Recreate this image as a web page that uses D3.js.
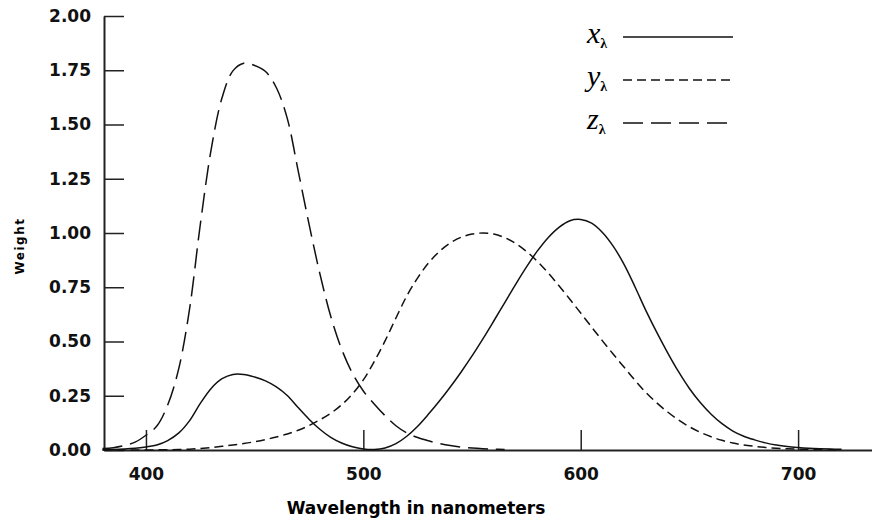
<!DOCTYPE html>
<html>
<head>
<meta charset="utf-8">
<script src="https://cdn.jsdelivr.net/npm/d3@7"></script>
<style>
body{margin:0;background:#fff;}
svg{display:block;}
.axis path,.axis line{stroke:#222;}
.axis text{font-family:"DejaVu Sans",sans-serif;font-weight:bold;font-size:17px;fill:#111;}
</style>
</head>
<body>
<svg id="chart" width="872" height="523"></svg>
<script>
let svgWidth = 872;
let svgHeight = 523;

// wavelengths (nm), 5 nm steps, and the three weight curves
let wavelength = d3.range(380,721,5);
let xBar = [0.0014,0.0022,0.0042,0.0077,0.0143,0.0232,0.0435,0.0776,0.1344,0.2148,0.2839,0.3285,0.3483,0.3481,0.3362,0.3187,0.2908,0.2511,0.1954,0.1421,0.0956,0.0580,0.0320,0.0147,0.0049,0.0024,0.0093,0.0291,0.0633,0.1096,0.1655,0.2257,0.2904,0.3597,0.4334,0.5121,0.5945,0.6784,0.7621,0.8425,0.9163,0.9786,1.0263,1.0567,1.0622,1.0456,1.0026,0.9384,0.8544,0.7514,0.6424,0.5419,0.4479,0.3608,0.2835,0.2187,0.1649,0.1212,0.0874,0.0636,0.0468,0.0329,0.0227,0.0158,0.0114,0.0081,0.0058,0.0041,0.0029];
let yBar = [0.0000,0.0001,0.0001,0.0002,0.0004,0.0006,0.0012,0.0022,0.0040,0.0073,0.0116,0.0168,0.0230,0.0298,0.0380,0.0480,0.0600,0.0739,0.0910,0.1126,0.1390,0.1693,0.2080,0.2586,0.3230,0.4073,0.5030,0.6082,0.7100,0.7932,0.8620,0.9149,0.9540,0.9803,0.9950,1.0000,0.9950,0.9786,0.9520,0.9154,0.8700,0.8163,0.7570,0.6949,0.6310,0.5668,0.5030,0.4412,0.3810,0.3210,0.2650,0.2170,0.1750,0.1382,0.1070,0.0816,0.0610,0.0446,0.0320,0.0232,0.0170,0.0119,0.0082,0.0057,0.0041,0.0029,0.0021,0.0015,0.0010];
let zWave = d3.range(380,566,5);
let zBar = [0.0065,0.0106,0.0201,0.0362,0.0679,0.1102,0.2074,0.3713,0.6456,1.0391,1.3856,1.6230,1.7471,1.7826,1.7721,1.7441,1.6692,1.5281,1.2876,1.0419,0.8130,0.6162,0.4652,0.3533,0.2720,0.2123,0.1582,0.1117,0.0782,0.0573,0.0422,0.0298,0.0203,0.0134,0.0088,0.0058,0.0039,0.0028];
let xTicks = [400,500,600,700];
let yTicks = [0,0.25,0.5,0.75,1,1.25,1.5,1.75,2];
let legendNames = ['x','y','z'];

let xScale = d3.scaleLinear().domain([380.7,734]).range([104,872]);
let yScale = d3.scaleLinear().domain([0,2]).range([450,16]);

let svg = d3.select('#chart');

let xAxis = svg.append('g')
    .attr('class','axis')
    .attr('transform','translate(0,450)')
    .call(d3.axisBottom(xScale).tickValues(xTicks).tickFormat(d3.format('d'))
        .tickSizeInner(-20).tickSizeOuter(0).tickPadding(18))
xAxis.select('.domain').attr('stroke-width',2)
xAxis.selectAll('.tick line').attr('stroke-width',1.5)

let yAxis = svg.append('g')
    .attr('class','axis')
    .attr('transform','translate(104,0)')
    .call(d3.axisLeft(yScale).tickValues(yTicks).tickFormat(d3.format('.2f'))
        .tickSizeInner(-20).tickSizeOuter(0).tickPadding(13))
yAxis.select('.domain').attr('stroke-width',2)
yAxis.selectAll('.tick line').attr('stroke-width',1.5)

svg.append('text')
    .attr('x',416)
    .attr('y',514)
    .attr('text-anchor','middle')
    .attr('font-family','DejaVu Sans, sans-serif')
    .attr('font-weight','bold')
    .attr('font-size','17px')
    .text('Wavelength in nanometers')

svg.append('text')
    .attr('transform','translate(24,246) rotate(-90)')
    .attr('text-anchor','middle')
    .attr('font-family','DejaVu Sans, sans-serif')
    .attr('font-weight','bold')
    .attr('font-size','12px')
    .attr('letter-spacing','1.5px')
    .text('Weight')

// curves
let dashes = ['none','9,5','20,8'];
let series = [
    {x:wavelength, y:xBar},
    {x:wavelength, y:yBar},
    {x:zWave, y:zBar}
];
let line = d3.line()
    .x(d=>xScale(d[0]))
    .y(d=>yScale(Math.max(0,d[1])))
    .curve(d3.curveCatmullRom.alpha(0.5));

series.map((s,i)=>{
    svg.append('path')
        .datum(s.x.map((w,j)=>[w,s.y[j]]))
        .attr('d',line)
        .attr('fill','none')
        .attr('stroke','#111')
        .attr('stroke-width',1.5)
        .attr('stroke-dasharray',dashes[i])
})

// legend
let legend = svg.append('g')
    .selectAll('g')
    .data(legendNames)
    .enter()
    .append('g')
    .attr('transform',(d,i)=>`translate(0,${37+i*43})`)
legend.append('line')
    .attr('x1',623)
    .attr('x2',733)
    .attr('y1',0)
    .attr('y2',0)
    .attr('stroke','#111')
    .attr('stroke-width',1.5)
    .attr('stroke-dasharray',(d,i)=>dashes[i])
legend.append('text')
    .attr('x',587)
    .attr('y',6)
    .attr('font-family','Liberation Serif, serif')
    .attr('font-size','30px')
legend.selectAll('text').each(function(d){
    let t = d3.select(this)
    t.append('tspan').attr('font-style','italic').text(d)
    t.append('tspan').attr('font-size','14px').attr('font-weight','bold').attr('dy',5).text('λ')
})
</script>
</body>
</html>
